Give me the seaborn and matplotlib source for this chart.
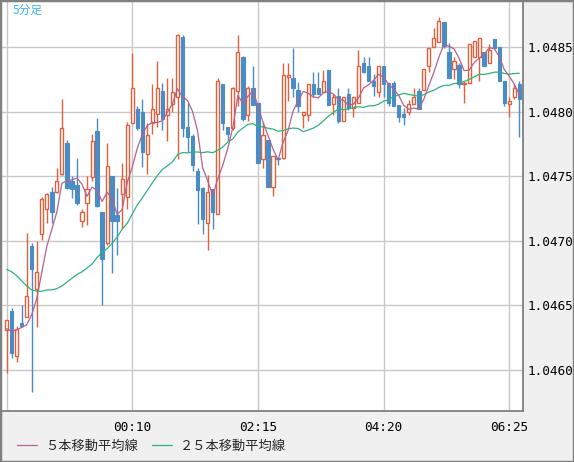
import numpy as np
import pandas as pd
import seaborn as sns
import matplotlib.pyplot as plt
from matplotlib.patches import Rectangle
from matplotlib.lines import Line2D

# 5-minute candles (first bar 22:05)
opens = [1.04631, 1.04646, 1.04611, 1.04636, 1.04641, 1.04696, 1.04663, 1.04705, 1.04725, 1.04738,
         1.04738, 1.04752, 1.04776, 1.04746, 1.04743, 1.04715, 1.04729, 1.04749, 1.04785, 1.04722,
         1.04698, 1.04750, 1.04720, 1.04736, 1.04734, 1.04791, 1.04802, 1.04800, 1.04767, 1.04791,
         1.04798, 1.04816, 1.04797, 1.04806, 1.04811, 1.04858, 1.04788, 1.04781, 1.04754, 1.04741,
         1.04714, 1.04740, 1.04721, 1.04821, 1.04788, 1.04787, 1.04816, 1.04842, 1.04797, 1.04818,
         1.04807, 1.04763, 1.04778, 1.04742, 1.04764, 1.04764, 1.04827, 1.04826, 1.04817, 1.04797,
         1.04797, 1.04821, 1.04818, 1.04815, 1.04832, 1.04806, 1.04812, 1.04793, 1.04814, 1.04803,
         1.04807, 1.04838, 1.04835, 1.04824, 1.04815, 1.04835, 1.04822, 1.04822, 1.04805, 1.04798,
         1.04800, 1.04806, 1.04816, 1.04817, 1.04835, 1.04850, 1.04854, 1.04869, 1.04846, 1.04833,
         1.04836, 1.04821, 1.04822, 1.04842, 1.04842, 1.04846, 1.04838, 1.04856, 1.04850, 1.04824,
         1.04806, 1.04811, 1.04821]
highs = [1.04639, 1.04648, 1.04634, 1.04650, 1.04706, 1.04698, 1.04700, 1.04734, 1.04737, 1.04742,
         1.04756, 1.04810, 1.04778, 1.04750, 1.04764, 1.04725, 1.04750, 1.04783, 1.04795, 1.04722,
         1.04776, 1.04750, 1.04741, 1.04760, 1.04792, 1.04845, 1.04804, 1.04810, 1.04791, 1.04821,
         1.04839, 1.04822, 1.04826, 1.04826, 1.04860, 1.04859, 1.04807, 1.04783, 1.04756, 1.04742,
         1.04751, 1.04740, 1.04826, 1.04821, 1.04788, 1.04819, 1.04859, 1.04843, 1.04820, 1.04835,
         1.04807, 1.04792, 1.04778, 1.04766, 1.04764, 1.04838, 1.04838, 1.04849, 1.04823, 1.04800,
         1.04821, 1.04831, 1.04831, 1.04832, 1.04832, 1.04814, 1.04818, 1.04811, 1.04818, 1.04811,
         1.04848, 1.04842, 1.04842, 1.04829, 1.04835, 1.04835, 1.04822, 1.04824, 1.04805, 1.04803,
         1.04809, 1.04818, 1.04818, 1.04833, 1.04849, 1.04865, 1.04873, 1.04869, 1.04853, 1.04842,
         1.04838, 1.04824, 1.04852, 1.04855, 1.04857, 1.04846, 1.04852, 1.04856, 1.04850, 1.04824,
         1.04811, 1.04821, 1.04824]
lows = [1.04598, 1.04609, 1.04606, 1.04633, 1.04641, 1.04583, 1.04633, 1.04701, 1.04714, 1.04714,
        1.04737, 1.04751, 1.04740, 1.04733, 1.04728, 1.04711, 1.04712, 1.04746, 1.04726, 1.04650,
        1.04697, 1.04675, 1.04689, 1.04710, 1.04725, 1.04791, 1.04786, 1.04757, 1.04752, 1.04783,
        1.04788, 1.04786, 1.04777, 1.04800, 1.04763, 1.04780, 1.04769, 1.04754, 1.04713, 1.04705,
        1.04693, 1.04709, 1.04721, 1.04786, 1.04777, 1.04786, 1.04804, 1.04793, 1.04793, 1.04805,
        1.04760, 1.04756, 1.04742, 1.04735, 1.04759, 1.04763, 1.04808, 1.04811, 1.04800, 1.04787,
        1.04793, 1.04811, 1.04814, 1.04815, 1.04805, 1.04797, 1.04791, 1.04793, 1.04801, 1.04796,
        1.04807, 1.04830, 1.04824, 1.04812, 1.04811, 1.04811, 1.04804, 1.04804, 1.04792, 1.04790,
        1.04797, 1.04806, 1.04802, 1.04817, 1.04831, 1.04850, 1.04854, 1.04849, 1.04826, 1.04825,
        1.04818, 1.04807, 1.04822, 1.04842, 1.04824, 1.04835, 1.04838, 1.04849, 1.04824, 1.04804,
        1.04796, 1.04810, 1.04780]
closes = [1.04639, 1.04613, 1.04632, 1.04634, 1.04657, 1.04678, 1.04676, 1.04732, 1.04736, 1.04722,
          1.04746, 1.04787, 1.04741, 1.04740, 1.04729, 1.04722, 1.04740, 1.04777, 1.04727, 1.04686,
          1.04758, 1.04715, 1.04715, 1.04748, 1.04790, 1.04818, 1.04787, 1.04769, 1.04782, 1.04802,
          1.04818, 1.04794, 1.04802, 1.04815, 1.04859, 1.04787, 1.04780, 1.04759, 1.04739, 1.04717,
          1.04738, 1.04722, 1.04824, 1.04791, 1.04783, 1.04818, 1.04846, 1.04794, 1.04818, 1.04805,
          1.04760, 1.04782, 1.04742, 1.04766, 1.04763, 1.04828, 1.04828, 1.04818, 1.04804, 1.04800,
          1.04821, 1.04814, 1.04814, 1.04824, 1.04805, 1.04811, 1.04793, 1.04811, 1.04803, 1.04811,
          1.04835, 1.04831, 1.04824, 1.04820, 1.04835, 1.04821, 1.04807, 1.04804, 1.04796, 1.04796,
          1.04806, 1.04811, 1.04802, 1.04833, 1.04849, 1.04857, 1.04870, 1.04851, 1.04826, 1.04839,
          1.04821, 1.04822, 1.04852, 1.04855, 1.04857, 1.04835, 1.04848, 1.04849, 1.04824, 1.04807,
          1.04808, 1.04818, 1.04810]

# moving averages at the left edge depend on bars before the window ->
ma5_head = [1.04632, 1.04630, 1.04631, 1.04633]
ma25_head = [1.04678, 1.04676, 1.04673, 1.04669, 1.04665, 1.04662, 1.04661, 1.04661, 1.04662, 1.04662,
             1.04663, 1.04665, 1.04668, 1.04671, 1.04674, 1.04676, 1.04679, 1.04682, 1.04687, 1.04691,
             1.04694, 1.04698, 1.04703, 1.04709]

tick_times = ["22:05", "00:10", "02:15", "04:20", "06:25"]
price_ticks = [1.0460, 1.0465, 1.0470, 1.0475, 1.0480, 1.0485]

df = pd.DataFrame({"open": opens, "high": highs, "low": lows, "close": closes})
df["x"] = np.arange(len(df))
df["time"] = pd.date_range("2024-01-01 22:05", periods=len(df), freq="5min").strftime("%H:%M")
df["ma5"] = df["close"].rolling(5).mean()
df.loc[:len(ma5_head) - 1, "ma5"] = ma5_head
df["ma25"] = df["close"].rolling(25).mean()
df.loc[:len(ma25_head) - 1, "ma25"] = ma25_head

UP = "#e0603c"
DOWN = "#4a8cc4"
MA5_C = "#b8608e"
MA25_C = "#2db37a"
EDGE = "#808080"

sns.set_style("white")
plt.rcParams["font.family"] = ["DejaVu Sans Mono"]

fig = plt.figure(figsize=(5.74, 4.62), dpi=100, facecolor="#f0f0f0")
ax = fig.add_axes([2 / 574, 51 / 462, 521 / 574, 409 / 462], facecolor="white")

up = df[df.close >= df.open]
dn = df[df.close < df.open]
min_h = 0.000008

# wicks
ax.vlines(up.x, up.low, up.high, color=UP, lw=1, zorder=2)
ax.vlines(dn.x, dn.low, dn.high, color=DOWN, lw=1, zorder=2)
# bodies
ax.bar(up.x, np.maximum(up.close - up.open, min_h), bottom=up.open, width=0.62,
       facecolor="white", edgecolor=UP, lw=1, zorder=3)
ax.bar(dn.x, np.maximum(dn.open - dn.close, min_h), bottom=dn.close, width=0.68,
       facecolor=DOWN, edgecolor=DOWN, lw=0.8, zorder=3)

# moving averages
sns.lineplot(data=df, x="x", y="ma25", color=MA25_C, lw=0.9, ax=ax, zorder=4)
sns.lineplot(data=df, x="x", y="ma5", color=MA5_C, lw=0.9, ax=ax, zorder=5)

step = 5.027
ax.set_xlim(-(6.6 - 2) / step, (523 - 6.6) / step)
ax.set_ylim(1.0485 - 364 / 129200, 1.0485 + 45 / 129200)

xpos = [int(df.index[df.time == t][0]) for t in tick_times]
ax.set_xticks(xpos)
ax.set_xticklabels([""] + tick_times[1:])
ax.set_yticks(price_ticks)
ax.set_yticklabels([f"{p:.4f}" for p in price_ticks])
ax.yaxis.tick_right()
ax.tick_params(axis="both", length=0, labelsize=9.2, colors="black")
ax.tick_params(axis="x", pad=7)
ax.tick_params(axis="y", pad=3)
ax.grid(True, color="#c8c8c8", lw=1, zorder=0)
ax.set_axisbelow(True)
ax.set_xlabel("")
ax.set_ylabel("")

for s in ["top", "left"]:
    ax.spines[s].set_visible(False)
for s in ["right", "bottom"]:
    ax.spines[s].set_color(EDGE)
    ax.spines[s].set_linewidth(1.3)

# outer frame
fig.patches.append(Rectangle((0, 0), 1, 1, transform=fig.transFigure, fill=False,
                             edgecolor=EDGE, lw=2.5, zorder=10))

fig.text(13 / 574, 1 - 10.5 / 462, "5分足", color="#3cb4ee", fontsize=8.5, va="center",
         family=["Noto Sans CJK JP", "DejaVu Sans"])

handles = [Line2D([], [], color=MA5_C, lw=0.9), Line2D([], [], color=MA25_C, lw=0.9)]
fig.legend(handles, ["５本移動平均線", "２５本移動平均線"], loc="center left",
           bbox_to_anchor=(17 / 574, 1 - 446 / 462), ncol=2, frameon=False,
           borderpad=0, borderaxespad=0, handlelength=1.55, handletextpad=0.6,
           columnspacing=1.05, prop={"family": ["Noto Sans CJK JP"], "size": 9.5})

fig.savefig("out.png", dpi=100, facecolor=fig.get_facecolor())
